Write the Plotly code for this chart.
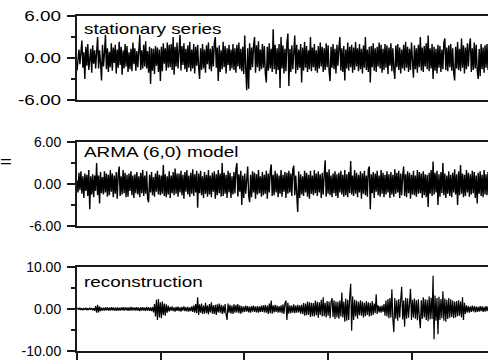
import plotly.graph_objects as go

# ---------------- data ----------------
stationary = [
    -1.8, -0.6, 1.2, -0.9, 1.6, 2.5, -1.4, 0.8, -3.0, 1.6, -1.1, 2.0, -1.7, 0.6, 1.3, -2.1, 1.8, -0.8, 1.1, -1.5,
    0.9, 3.0, -1.5, 1.1, -0.7, -3.2, 1.9, -1.2, 0.7, 3.3, -1.6, 1.4, -2.0, 0.9, -1.3, 2.1, -1.8, 1.5, -0.7, 1.9,
    -2.2, 1.2, -1.4, 2.3, -1.0, 1.6, -2.4, 1.1, -1.5, 2.0, -1.2, 1.7, -2.0, 0.8, -1.6, 1.3, -1.9, 2.2, -0.9, 1.4,
    -1.8, 1.0, -1.3, 2.0, 3.3, -1.7, 1.1, -1.5, 1.9, -1.2, 2.4, -1.5, 1.0, -2.1, 1.6, -3.7, 1.4, -1.8, 1.3, -2.3,
    1.7, -1.1, 1.5, -2.0, 1.2, -3.3, 1.6, -1.9, 2.1, -0.8, 1.4, -1.8, 2.2, -1.4, 1.9, -1.3, 2.0, -1.7, 3.0, -2.4,
    1.6, -1.2, 2.2, -1.5, 1.0, 3.3, -1.8, 1.7, -1.0, 2.1, -1.6, 1.3, -2.0, 1.8, -1.4, 2.3, -1.9, 1.2, -1.5, 2.0,
    -2.2, 1.6, -1.1, 1.9, -1.3, -3.0, 1.4, -1.7, 2.0, -1.5, 1.2, -2.1, 1.8, -0.9, 2.2, -1.6, 1.3, -1.9, 1.7, -1.2,
    2.1, 3.0, -1.4, 1.5, -3.3, 1.8, -2.0, 1.1, -1.6, 2.3, -1.3, 1.7, -2.2, 1.4, -1.0, 1.9, -1.8, 1.2, -1.5, 2.0,
    -1.7, 1.4, -2.1, 1.9, -1.2, 2.2, -1.6, 1.3, -1.9, 1.6, -2.3, 3.2, -1.5, -4.6, 1.4, -4.4, 2.1, -1.7, 1.5, -1.3,
    1.8, 3.0, -2.1, 1.8, -1.3, 2.4, -1.9, 1.2, -1.6, 2.0, -1.4, 1.7, -2.2, -3.5, 1.6, -1.8, 2.1, -1.5, 1.3, -2.0,
    4.1, -1.6, 1.9, -2.3, 1.4, -1.7, 2.0, -4.3, 3.0, -1.5, 1.8, -2.2, 1.3, -1.9, 2.2, 3.5, -4.0, 1.3, -2.0, 1.8,
    -1.6, 1.4, 3.2, -2.2, 1.9, -1.7, 1.2, -1.4, 2.0, -3.5, 1.5, -1.8, 2.3, -1.4, 1.7, -2.0, 1.1, -1.6, 3.0, -1.9,
    1.5, -1.3, 2.0, -1.8, 1.1, -2.1, 1.7, -1.5, 2.2, -1.2, 1.6, -2.0, 1.4, -1.7, 2.1, -1.3, 1.8, -1.9, -3.3, 1.6,
    -1.4, 2.0, -1.6, 1.3, -2.2, 1.9, -1.1, 1.5, 3.0, -1.8, 1.4, -2.0, 1.7, -3.2, 1.2, -1.5, 2.2, -1.8, 1.6, -1.3,
    1.9, -2.1, 1.5, -1.7, 2.3, -1.2, 1.4, -1.9, 2.0, -1.6, 1.3, -2.2, 1.8, -1.4, 3.0, -1.7, 1.2, -2.0, 1.6, -3.5,
    1.7, -1.3, 2.1, -1.8, 1.4, -2.0, 1.6, -1.2, 2.2, -1.5, 1.9, -2.1, 1.3, -1.7, 2.0, -1.4, 1.8, -2.3, 1.5, -1.1,
    2.1, -1.9, 1.4, -1.6, -3.0, 1.8, -1.3, 2.0, -1.7, 1.5, -2.2, 1.2, -1.5, 1.9, -1.8, 2.3, -1.4, 1.6, -2.0, 1.3,
    -1.7, 2.2, -1.1, -2.8, 1.8, -1.6, 1.4, -2.1, 1.9, -1.3, 3.0, -1.8, 1.5, -2.0, 1.7, -1.2, 2.1, -1.6, 3.2, -1.9,
    1.4, -1.5, 2.0, -3.0, 1.6, -1.8, 1.3, -2.2, 1.9, -1.4, 1.7, -2.0, 1.2, -1.6, 2.2, 2.8, -1.7, 1.5, -1.9, 1.8,
    -1.3, 2.0, -1.8, 1.4, -2.1, -3.2, 1.6, -1.5, 2.3, -1.7, 1.3, -1.9, 2.8, -1.4, 1.8, -2.2, 1.5, -1.6, 2.1, -1.2,
    1.7, 2.8, -2.0, 1.4, -1.7, 2.2, -1.5, 1.9, -1.8, -3.0, 1.3, -2.6, 2.0, -1.6, 1.5, -2.1, 1.8, -1.4, 2.0, -1.7,
]

arma_model = [
    0.5, -1.2, 1.6, -0.9, 1.8, -1.4, 1.1, -2.0, 1.5, -1.0, 1.3, -1.7, 2.0, -3.6, 1.1, -1.5, 1.4, -1.9, 1.2, -1.0,
    3.0, -1.6, 1.2, -2.8, 1.7, -1.3, 1.0, -1.5, 1.8, -1.2, 1.5, -1.8, 1.3, -1.6, 2.0, -1.1, 1.5, -1.9, 1.2, -1.4,
    1.7, -2.1, 1.4, 2.5, -1.7, 1.1, -1.5, 2.0, -1.3, 1.6, -1.9, 1.3, -1.8, 1.5, -1.0, 1.8, -1.6, 1.2, -2.0, 1.4,
    -1.3, 1.7, -1.5, 1.1, -1.9, 1.6, -1.3, 2.0, -1.7, 1.2, -1.4, 1.8, -2.1, -2.6, 1.3, -1.2, 1.7, -1.6, 1.0, -1.8,
    1.5, -1.1, 1.9, -1.5, 1.3, -1.6, 1.2, -1.4, 2.7, -1.7, 1.4, -1.9, 1.1, -1.5, 1.8, -2.0, 1.2, -1.3, 1.7, -1.6,
    2.2, -1.4, 1.5, -1.8, 1.5, -1.2, 1.9, -1.6, 1.3, -2.1, 1.7, -1.1, 2.0, -1.5, 1.2, -1.8, 1.6, -1.4, 2.1, -1.7,
    1.4, -1.2, 1.9, -3.4, 1.5, -1.3, 1.9, -1.6, 1.1, -2.0, 1.7, -1.4, 1.3, -1.8, 2.0, -1.5, 1.2, -1.9, 1.6, -1.1,
    1.8, -2.1, 1.4, -1.6, 2.0, -1.3, 1.5, -1.8, 3.0, -1.7, 1.6, -1.4, 1.3, -2.0, 1.9, -1.2, 1.6, -2.0, 1.1, -1.5,
    1.7, -1.3, 2.1, 3.0, -1.8, 1.4, -1.1, 1.9, -3.0, 1.2, -2.0, 1.5, -1.4, 1.6, 2.5, -1.7, -2.6, 1.3, -1.9, 1.8,
    -1.2, 1.6, -2.1, 1.4, -1.5, 2.0, -1.3, 1.1, -1.8, 1.7, -1.6, 1.3, -1.4, 1.9, -2.1, 1.5, -1.2, 1.8, 2.8, -1.7,
    1.3, -1.6, 1.9, -1.2, 1.5, -1.9, 1.2, -1.4, 2.0, -1.8, 1.3, -1.1, 1.7, -2.0, 1.6, -1.4, 1.9, -1.2, 1.5, -1.7,
    2.1, 2.6, -1.6, 1.2, -1.3, -4.0, 1.8, -2.0, 1.4, -1.5, 1.1, -1.7, 1.9, -1.2, 1.6, -1.8, 1.3, -2.1, 1.9, -1.4,
    1.2, -1.6, 2.0, -1.3, 1.5, -1.7, 1.8, -1.2, 1.4, -2.0, 1.6, -1.5, 1.3, 3.4, -1.8, 1.7, -1.4, 2.1, -1.6, 1.2,
    -1.9, 1.5, -1.3, 1.8, -1.7, 1.4, -2.0, 1.6, -1.2, 1.9, -1.5, 1.3, -1.8, 2.0, -1.6, 1.4, -1.9, 1.7, -1.3, 3.3,
    -1.5, 1.2, -1.7, 2.0, -1.4, 1.6, -1.9, 1.3, -1.2, 1.8, -2.1, 1.5, -1.4, 1.9, -1.6, 1.2, -1.8, 2.1, 2.5, -3.6,
    1.4, -1.3, 1.7, -2.0, 1.5, -1.1, 1.9, -1.6, 1.2, -1.8, 2.0, -1.4, 1.6, -1.9, 1.3, -1.5, 1.8, -1.2, 1.4, -2.0,
    1.7, -1.5, 1.3, -1.8, 2.1, -1.4, 1.6, -1.2, 1.9, -2.0, 1.5, -1.6, 1.2, 2.5, -1.7, 1.4, -1.9, 1.8, -1.3, 1.6,
    -2.1, 1.3, -1.5, 1.9, -1.6, 1.2, -1.8, 2.0, -1.4, 1.7, -1.3, 1.5, -2.0, 1.8, -1.6, 1.4, -1.9, 1.3, -3.3, 1.6,
    -1.4, 2.0, -1.7, 3.2, -1.5, 1.6, -1.2, 1.9, -3.0, 1.4, -1.8, 1.7, -1.3, 3.0, -1.6, 1.5, -2.0, 1.2, -1.4, 1.8,
    -1.7, 1.3, -1.9, 1.6, -1.2, 2.1, -1.5, 1.4, -3.0, 1.8, -1.6, 2.7, -1.4, 1.5, -1.9, 1.3, -1.7, 2.0, -1.2, 1.6,
    -1.8, 1.4, -1.5, 1.9, -1.3, 1.7, -2.0, 1.2, -2.8, 1.6, -1.4, 1.8, -1.7, 1.3, -1.9, 2.0, -1.5, 1.4, -1.6, 1.7,
]

reconstruction = [
    0.0, 0.2, -0.2, 0.3, -0.25, 0.2, -0.3, 0.25, -0.2, 0.3, -0.3, 0.2, -0.25, 0.3, -0.2, 0.25, -0.3, 0.2, -0.4, 0.7,
    -0.9, 1.0, -0.8, 0.6, -0.5, 0.3, -0.35, 0.3, -0.4, 0.35, -0.3, 0.4, -0.35, 0.3, -0.4, 0.45, -0.3, 0.35, -0.4, 0.3,
    -0.45, 0.4, -0.35, 0.3, -0.4, 0.35, -0.3, 0.45, -0.4, 0.35, -0.3, 0.4, -0.45, 0.35, -0.4, 0.5, -0.35, 0.4, -0.3, 0.35,
    -0.4, 0.45, -0.35, 0.3, -0.5, 0.4, -0.35, 0.45, -0.4, 0.3, -0.45, 0.5, -0.4, 0.35, -0.45, 0.4, -0.5, 0.45, -0.8, 1.2,
    -1.8, 2.2, -2.6, 2.4, -2.0, 1.6, -2.2, 1.8, -1.5, 1.3, -1.6, 1.1, -0.9, 0.8, -0.6, 0.5, -0.4, 0.6, -0.5, 0.4,
    -0.6, 0.5, -0.45, 0.55, -0.5, 0.4, -0.6, 0.5, -0.4, 0.6, -0.5, 0.45, -0.55, 0.5, -0.6, 0.4, -0.5, 0.6, -0.7, 0.9,
    -0.9, 1.2, -1.0, 2.8, -1.4, 1.1, -0.9, 1.3, -1.2, 0.8, -1.1, 1.5, -1.0, 0.9, -1.3, 1.2, -0.8, 1.6, -1.1, 0.9,
    -1.2, 1.0, -1.4, 1.1, -0.8, 1.3, -0.9, 1.0, -1.2, 0.8, -1.0, 1.2, -1.3, -2.6, 1.3, -0.9, 1.0, -1.1, 0.8, -1.2,
    1.1, -0.9, 1.0, -0.8, 1.2, -1.0, 0.9, -1.1, 0.7, -0.8, 0.6, -0.7, 0.8, -0.6, 0.7, -0.8, 0.6, -0.9, 0.7, -0.6,
    0.8, -0.7, 0.6, -0.8, 0.7, -0.9, 0.6, -0.7, 0.8, -0.7, 0.9, -0.8, 1.0, -0.9, 0.8, -1.2, 1.3, -1.0, 2.0, -1.1,
    0.9, -0.8, 1.0, -0.7, 0.8, -0.9, 0.7, -0.8, 0.9, -1.0, 1.1, -1.2, 1.4, 2.0, -2.6, 1.5, -1.1, 0.9, -1.0, 0.8,
    -0.9, 1.1, -1.0, 0.8, -0.9, 1.0, -0.8, 0.9, -1.1, 1.0, -1.2, 1.4, -1.6, 1.3, -1.5, 1.8, -1.4, 1.6, -1.9, 1.5,
    -1.7, 1.4, -1.8, 2.0, -1.5, 1.7, -2.1, 1.6, -1.4, 2.2, -1.8, 2.8, -1.7, 1.5, -2.0, 1.9, -1.6, 1.8, -2.2, 1.7,
    2.6, -1.9, 2.1, -2.4, 1.8, -2.0, 1.7, -2.3, 2.0, -1.8, 3.9, -2.0, 1.8, -3.0, 2.5, -2.8, 2.2, -2.6, 3.0, 6.0,
    -5.2, 3.0, -2.6, 2.2, -1.8, 2.0, -2.3, 1.7, -1.5, 2.1, -1.6, 1.8, -2.0, 1.5, -1.7, 1.9, -1.4, 1.6, -1.8, 1.5,
    -1.6, 1.9, -1.4, 1.3, -1.0, 3.5, -1.2, 0.9, -0.8, 0.7, -0.9, 0.8, -0.7, 1.2, -1.6, 2.0, -1.8, 2.4, -2.2, 2.6,
    -2.0, 4.7, -2.4, -5.5, 2.6, -2.3, 2.1, -2.8, 2.4, -2.0, 2.2, 5.3, -2.5, 2.0, -4.2, 2.7, -2.3, 2.5, -2.1, 2.4,
    4.8, -2.6, 2.2, -2.0, 2.5, -2.3, 2.1, -2.7, 2.3, -2.0, -4.6, 2.1, -2.4, 2.8, -2.0, 2.3, -2.6, 2.2, -2.9, 3.0,
    -2.5, 2.7, -2.4, 7.9, -7.2, 3.2, -2.8, 2.6, -6.0, 2.9, -2.6, 2.4, -2.2, 4.2, -2.8, 2.5, -3.0, 2.2, -2.4, 2.6,
    -2.1, 2.3, -1.9, 2.0, -2.2, 1.8, -2.0, 1.9, -1.7, 2.1, -1.6, 1.8, -2.0, 2.8, -2.6, 1.5, -1.2, 0.9, -0.8, 0.7,
    -0.9, 0.6, -0.7, 0.8, -0.6, 0.7, -0.8, 0.6, -0.7, 0.5, -0.6, 0.7, -0.5, 0.6, -0.7, 0.5, -0.6, 0.7, -0.5, 0.6,
]

panel_labels = ["stationary series", "ARMA (6,0) model", "reconstruction"]
y_limits = [6, 6, 10]

# ---------------- figure ----------------
W, H = 488, 360
L = 77
x_span = 4910
n = len(stationary)
x_vals = [i * x_span / (n - 1) for i in range(n)]

FONT = "Liberation Sans, Arial, sans-serif"
LINE_C = "#1a1a1a"

# pixel positions of each panel (top, bottom)
panels_px = [(16, 100), (142, 226), (267, 351)]
line_widths = [1.4, 1.4, 1.2]

fig = go.Figure()
series = [stationary, arma_model, reconstruction]
for k, ys in enumerate(series):
    ax = "" if k == 0 else str(k + 1)
    fig.add_trace(go.Scatter(x=x_vals, y=ys, mode="lines",
                             line=dict(color="black", width=line_widths[k]),
                             xaxis="x" + ax, yaxis="y" + ax,
                             showlegend=False, hoverinfo="skip"))

layout = dict(
    width=W, height=H,
    margin=dict(l=L, r=0, t=0, b=0, autoexpand=False),
    paper_bgcolor="white", plot_bgcolor="white",
    font=dict(family=FONT, size=14, color="black"),
    showlegend=False,
)


def fmt(v):
    return "%.2f" % v


annotations = []
for k in range(3):
    ax = "" if k == 0 else str(k + 1)
    top, bot = panels_px[k]
    lim = y_limits[k]
    last = (k == 2)
    layout["xaxis" + ax] = dict(
        domain=[0, 1], anchor="y" + ax, range=[0, x_span], automargin=False,
        showline=True, mirror=True, linecolor=LINE_C, linewidth=2,
        showgrid=False, zeroline=False,
        ticks="outside" if last else "", ticklen=9, tickwidth=1.5, tickcolor=LINE_C,
        dtick=1000, tick0=0, showticklabels=False,
    )
    tv = [-lim, 0, lim]
    layout["yaxis" + ax] = dict(
        domain=[(H - bot) / H, (H - top) / H], anchor="x" + ax,
        range=[-lim, lim], automargin=False,
        tickmode="array", tickvals=tv, ticktext=[fmt(v) for v in tv],
        ticks="outside", ticklen=8, tickwidth=1.5, tickcolor=LINE_C,
        ticklabelstandoff=3,
        minor=dict(tickvals=[-lim / 2, lim / 2], ticks="outside", ticklen=4,
                   tickwidth=1.5, tickcolor=LINE_C),
        showline=True, linecolor=LINE_C, linewidth=2,
        showgrid=False, zeroline=False,
        tickfont=dict(family=FONT, size=14, color="black"),
    )
    label_y_px = [29, 152, 282][k]
    annotations.append(dict(
        text=panel_labels[k], xref="paper", yref="paper",
        x=5 / (W - L), y=(H - label_y_px) / H,
        xanchor="left", yanchor="middle", showarrow=False,
        font=dict(family=FONT, size=14, color="black"),
    ))

annotations.append(dict(
    text="=", xref="paper", yref="paper",
    x=(-2 - L) / (W - L), y=(H - 162) / H,
    xanchor="left", yanchor="middle", showarrow=False,
    font=dict(family=FONT, size=15, color="black"),
))
layout["annotations"] = annotations
fig.update_layout(**layout)

# The reference typeface is drawn horizontally widened; widen the real SVG text to match.
stretch_js = """
(function(){
  var gd = document.getElementById('{plot_id}');
  var re = / translate\\([^)]*\\) scale\\(1\\.35,1\\) translate\\([^)]*\\)$/;
  function apply(t, mode){
    var tr = (t.getAttribute('transform') || '').replace(re, '');
    var bb = t.getBBox();
    var ox = mode === 'end' ? bb.x + bb.width : bb.x;
    t.setAttribute('transform', tr + ' translate(' + ox + ',0) scale(1.35,1) translate(' + (-ox) + ',0)');
  }
  function stretch(){
    gd.querySelectorAll('g.ytick text').forEach(function(t){ apply(t, 'end'); });
    gd.querySelectorAll('g.annotation text').forEach(function(t){ apply(t, 'start'); });
  }
  stretch();
  if (gd.on) gd.on('plotly_afterplot', stretch);
})();
"""

fig.write_html("out.html", post_script=stretch_js)
